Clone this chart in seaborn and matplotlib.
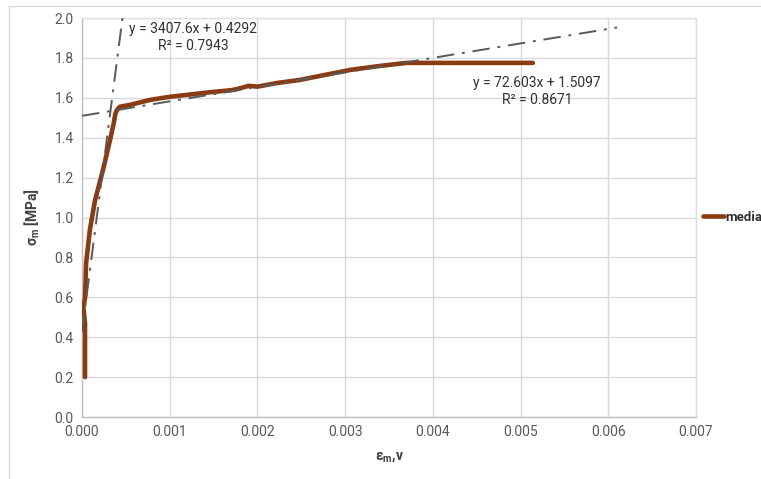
import matplotlib
matplotlib.use("Agg")
import matplotlib.pyplot as plt
from matplotlib.lines import Line2D
import numpy as np
import pandas as pd
import seaborn as sns

# Averaged stress-strain curve
strain = [0.000034, 0.000034, 0.000034, 0.000015, 0.000035, 0.000046, 0.00009,
          0.00015, 0.00024, 0.00032, 0.00036, 0.00038, 0.00040, 0.00043,
          0.00055, 0.00078, 0.00100, 0.00120, 0.00146, 0.00170, 0.00177,
          0.00190, 0.00200, 0.00222, 0.00249, 0.00260, 0.00306, 0.00340,
          0.00370, 0.00450, 0.00514]
stress = [0.20, 0.30, 0.47, 0.55, 0.60, 0.77, 0.94,
          1.09, 1.24, 1.39, 1.47, 1.52, 1.54, 1.555,
          1.565, 1.59, 1.605, 1.615, 1.628, 1.638, 1.644,
          1.660, 1.656, 1.674, 1.69, 1.70, 1.74, 1.76,
          1.775, 1.775, 1.775]

# Linear trendlines shown in the chart
trend_slope = [3407.6, 72.603]
trend_intercept = [0.4292, 1.5097]
trend_r2 = [0.7943, 0.8671]
trend_xrange = [(0.0, 0.000461), (0.0, 0.0061)]

x_ticks = [0.000, 0.001, 0.002, 0.003, 0.004, 0.005, 0.006, 0.007]
y_ticks = [0.0, 0.2, 0.4, 0.6, 0.8, 1.0, 1.2, 1.4, 1.6, 1.8, 2.0]

sns.set_theme(style="whitegrid")
plt.rcParams['font.family'] = ['Roboto', 'DejaVu Sans']
plt.rcParams['mathtext.fontset'] = 'custom'
plt.rcParams['mathtext.rm'] = 'Roboto'
plt.rcParams['mathtext.bf'] = 'Roboto:bold'

fig = plt.figure(figsize=(7.61, 4.79), dpi=100)
ax = fig.add_axes([0.1078, 0.1294, 0.8068, 0.833])

df = pd.DataFrame({'strain': strain, 'stress': stress})
sns.lineplot(data=df, x='strain', y='stress', sort=False, estimator=None, ax=ax,
             color='#8B3A12', linewidth=3.3, label='media', zorder=3)

for slope, icpt, (x0, x1) in zip(trend_slope, trend_intercept, trend_xrange):
    xs = np.array([x0, x1])
    ax.plot(xs, slope * xs + icpt, color='#595959', linewidth=1.4,
            linestyle=(0, (9, 4, 1.5, 4)), zorder=4)

txt = dict(ha='center', va='center', fontsize=10, color='#303030')
ax.text(0.00127, 1.945, f"y = {trend_slope[0]}x + {trend_intercept[0]}", **txt)
ax.text(0.00127, 1.86, f"R² = {trend_r2[0]}", **txt)
ax.text(0.00519, 1.675, f"y = {trend_slope[1]}x + {trend_intercept[1]}", **txt)
ax.text(0.00519, 1.59, f"R² = {trend_r2[1]}", **txt)

ax.set_xlim(0, 0.007)
ax.set_ylim(0, 2.0)
ax.set_xticks(x_ticks)
ax.set_yticks(y_ticks)
ax.set_xticklabels([f"{v:.3f}" for v in x_ticks])
ax.set_yticklabels([f"{v:.1f}" for v in y_ticks])
ax.tick_params(axis='both', labelsize=10, colors='#595959', length=0, pad=6)
ax.grid(True, color='#D9D9D9', linewidth=1)
for side in ['top', 'right']:
    ax.spines[side].set_color('#E0E0E0')
for side in ['left', 'bottom']:
    ax.spines[side].set_color('#BFBFBF')
for sp in ax.spines.values():
    sp.set_linewidth(1)

ax.set_xlabel(r"ε$_\mathbf{m}$,v", fontsize=10, fontweight='bold', color='#404040', labelpad=8)
ax.set_ylabel(r"σ$_\mathbf{m}$ [MPa]", fontsize=10, fontweight='bold', color='#404040', labelpad=9)

ax.legend(loc='center left', bbox_to_anchor=(1.0, 0.5), frameon=False,
          handlelength=1.6, handletextpad=0.1, borderaxespad=0.1,
          prop={'size': 9.5, 'weight': 'bold'}, labelcolor='#303030')

# light frame around the chart area
fig.add_artist(Line2D([9 / 761, 9 / 761], [0, 1 - 6 / 479], color='#D9D9D9', linewidth=1))
fig.add_artist(Line2D([9 / 761, 760 / 761], [1 - 6 / 479, 1 - 6 / 479], color='#D9D9D9', linewidth=1))

fig.savefig('out.png', dpi=100, facecolor='white')
